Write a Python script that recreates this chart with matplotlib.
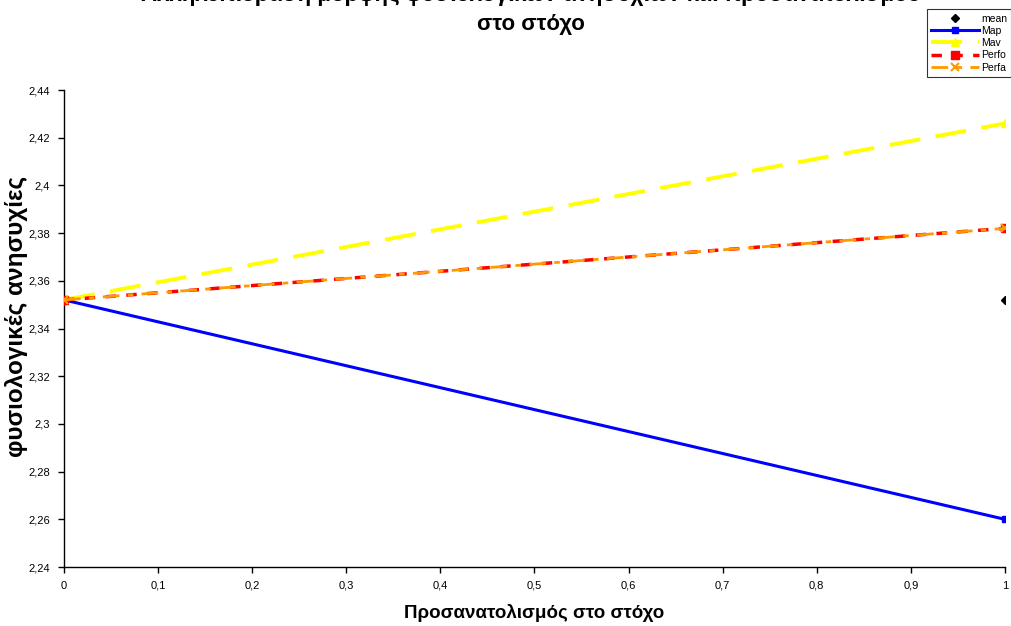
import matplotlib
matplotlib.use("Agg")
import matplotlib.pyplot as plt
from matplotlib.ticker import FuncFormatter

plt.rcParams['font.family'] = ['Liberation Sans', 'DejaVu Sans']

x = [0, 1]
mean_x = [1]
mean_y = [2.352]
map_y = [2.352, 2.26]
mav_y = [2.352, 2.426]
perfo_y = [2.352, 2.382]
perfa_y = [2.352, 2.382]
xticks = [0, 0.1, 0.2, 0.3, 0.4, 0.5, 0.6, 0.7, 0.8, 0.9, 1]
yticks = [2.24, 2.26, 2.28, 2.3, 2.32, 2.34, 2.36, 2.38, 2.4, 2.42, 2.44]

fig = plt.figure(figsize=(10.11, 6.26), dpi=100)
ax = fig.add_axes([0.0633, 0.0942, 0.9307, 0.762])

ax.plot(mean_x, mean_y, linestyle='none', marker='D', color='black', markersize=4, label='mean', zorder=6)
ax.plot(x, map_y, color='#0000ff', lw=2.2, marker='s', markersize=5, label='Map', zorder=3)
ax.plot(x, mav_y, color='#ffff00', lw=2.8, dashes=(8, 4), marker='^', markersize=6, label='Mav', zorder=3)
ax.plot(x, perfo_y, color='#ff0000', lw=2.5, dashes=(3, 3), marker='s', markersize=6, label='Perfo', zorder=4)
ax.plot(x, perfa_y, color='#ff9900', lw=2.0, dashes=(6, 3, 2, 3), marker='x', markersize=6, mew=1.5, label='Perfa', zorder=5)

ax.set_xlim(0, 1)
ax.set_ylim(2.24, 2.44)
ax.set_xticks(xticks)
ax.set_yticks(yticks)
fmt = FuncFormatter(lambda v, p: ('%g' % round(v, 2)).replace('.', ','))
ax.xaxis.set_major_formatter(fmt)
ax.yaxis.set_major_formatter(fmt)
ax.tick_params(labelsize=8, direction='out', length=4, width=1, pad=6)
for s in ['top', 'right']:
    ax.spines[s].set_visible(False)
for s in ['left', 'bottom']:
    ax.spines[s].set_linewidth(1)
ax.margins(0)

ax.set_xlabel('Προσανατολισμός στο στόχο', fontsize=13.5, fontweight='bold')
ax.xaxis.set_label_coords(0.5, -0.077)
ax.set_ylabel('φυσιολογικές ανησυχίες', fontsize=17.5, fontweight='bold')
ax.yaxis.set_label_coords(-0.038, 0.526)

fig.text(0.525, 0.944, 'Αλληλεπίδραση μορφής φυσιολογικών ανησυχιών και προσανατολισμού\nστο στόχο',
         ha='center', va='bottom', fontsize=16, fontweight='bold', linespacing=1.5)

leg = fig.legend(loc='upper right', bbox_to_anchor=(1.0, 0.985), fontsize=7.5, frameon=True,
                 fancybox=False, edgecolor='black', handlelength=4.6, borderpad=0.4,
                 labelspacing=0.22, handletextpad=0.2, borderaxespad=0)
leg.get_frame().set_linewidth(0.8)

fig.savefig('out.png', dpi=100)
